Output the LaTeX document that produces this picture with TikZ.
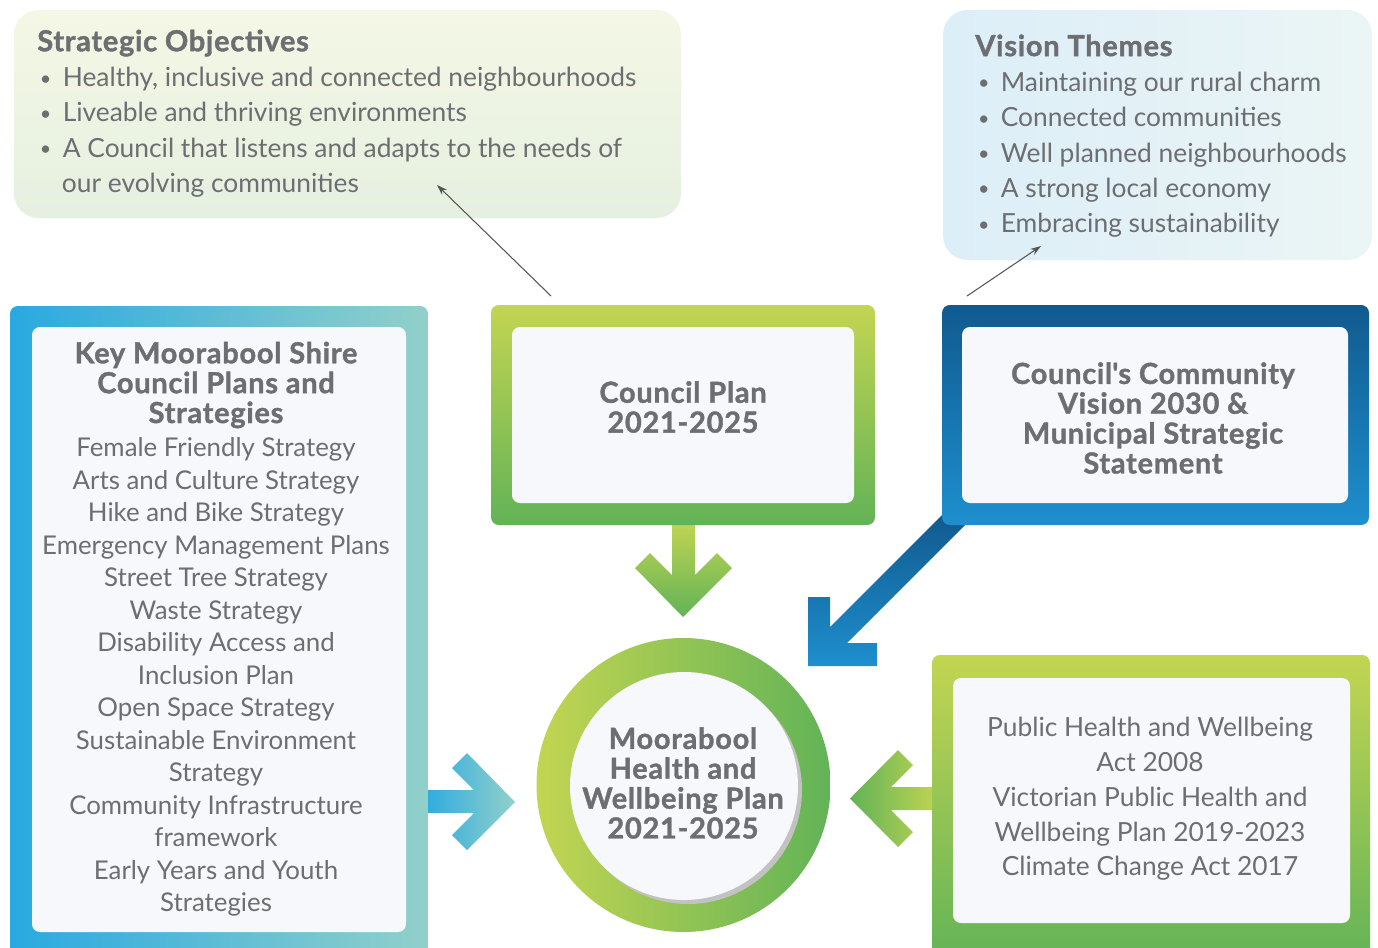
\documentclass[tikz,border=0pt]{standalone}
\usepackage{fontspec}
\setmainfont{Lato}[BoldFeatures={FakeBold=1.3}]
\usetikzlibrary{arrows.meta}
\definecolor{txtgray}{HTML}{6D6E71}
\definecolor{lime}{HTML}{C3D552}
\definecolor{leaf}{HTML}{62B357}
\definecolor{navy}{HTML}{115A8F}
\definecolor{sky}{HTML}{1E8FCE}
\definecolor{cyanb}{HTML}{29A9E1}
\definecolor{tealb}{HTML}{92D0CA}
\definecolor{paper}{HTML}{F7F8FB}
\definecolor{creamtop}{HTML}{F4F7E5}
\definecolor{creambot}{HTML}{E6F0E0}
\definecolor{icel}{HTML}{DCEEF8}
\definecolor{icer}{HTML}{EBF5F5}
\definecolor{shadowgray}{HTML}{C2C2C2}
\definecolor{pointer}{HTML}{555555}
\newcommand\bul{\makebox[14.5pt][l]{\hspace{1.5pt}\raisebox{0.8pt}{\scalebox{0.75}{•}}}}
\newcommand\headfont{\bfseries\fontsize{16.5}{17}\selectfont\addfontfeature{LetterSpace=2.5}}
\newcommand\boxtitle[1]{{\bfseries\fontsize{16.5}{17}\selectfont\addfontfeature{LetterSpace=2.5}#1}}
\begin{document}
\begin{tikzpicture}[x=0.02cm,y=-0.02cm,
  paperbox/.style={fill=paper, rounded corners=4.5pt},
  outerbox/.style={rounded corners=4.5pt},
  softbox/.style={rounded corners=14pt},
  body/.style={text=txtgray, inner sep=0pt, align=center, font=\fontsize{14.7}{18.5}\selectfont},
  head/.style={text=txtgray, inner sep=0pt, align=center, font=\headfont},
  bullets/.style={text=txtgray, inner sep=0pt, align=left, anchor=west, font=\fontsize{15}{20.1}\selectfont},
  pointerline/.style={draw=pointer, line width=0.6pt, -{Stealth[length=6pt,width=4pt]}}
]
\useasboundingbox (0,0) rectangle (1378,947);
\clip (0,0) rectangle (1378,947);
\fill[white] (0,0) rectangle (1378,947);

% light text boxes
\shade[softbox, top color=creamtop, bottom color=creambot] (14,10) rectangle (681,218);
\shade[softbox, left color=icel, right color=icer] (943,10) rectangle (1372,260);

\node[bullets] (strat) at (37,113.5) {\boxtitle{Strategic Objectives}\\
\bul Healthy, inclusive and connected neighbourhoods\\
\bul Liveable and thriving environments\\
\bul A Council that listens and adapts to the needs of\\
\hspace{14pt}our evolving communities};

\node[bullets] (vision) at (975,136) {\boxtitle{Vision Themes}\\
\bul Maintaining our rural charm\\
\bul Connected communities\\
\bul Well planned neighbourhoods\\
\bul A strong local economy\\
\bul Embracing sustainability};

% arrows (drawn beneath boxes)
\shade[top color=lime, bottom color=leaf] (672,520) -- (672,575) -- (650,553) -- (635,568) -- (683,617) -- (732,568) -- (717,553) -- (695,575) -- (695,520) -- cycle;
\shade[top color=navy, bottom color=sky] (942,515) -- (975,515) -- (847,643) -- (877,643) -- (877,666) -- (808,666) -- (808,597) -- (830,597) -- (830,627) -- cycle;
\shade[left color=cyanb, right color=tealb] (420,790) -- (474,790) -- (452,768) -- (467,753) -- (515,802) -- (467,850) -- (452,835) -- (474,813) -- (420,813) -- cycle;
\shade[left color=leaf, right color=lime] (940,787) -- (891,787) -- (913,765) -- (898,750) -- (850,798.5) -- (898,847) -- (913,832) -- (891,810) -- (940,810) -- cycle;

% left box
\shade[outerbox, left color=cyanb, right color=tealb] (10,306) rectangle (428,960);
\fill[paperbox] (32,327) rectangle (406,932);
\node[head] (keytitle) at (216,385) {Key Moorabool Shire\\Council Plans and\\Strategies};
\node[body] (keylist) at (216,677) {Female Friendly Strategy\\Arts and Culture Strategy\\Hike and Bike Strategy\\Emergency Management Plans\\Street Tree Strategy\\Waste Strategy\\Disability Access and\\Inclusion Plan\\Open Space Strategy\\Sustainable Environment\\Strategy\\Community Infrastructure\\framework\\Early Years and Youth\\Strategies};

% council plan box
\shade[outerbox, top color=lime, bottom color=leaf] (491,305) rectangle (875,525);
\fill[paperbox] (512,327) rectangle (854,503);
\node[head] (plan) at (683,407) {Council Plan\\2021-2025};

% community vision box
\shade[outerbox, top color=navy, bottom color=sky] (942,305) rectangle (1369,525);
\fill[paperbox] (962,327) rectangle (1348,503);
\node[head] (commun) at (1153,418) {Council\textquotesingle s Community\\Vision 2030 \&\\Municipal Strategic\\Statement};

% public health box
\shade[outerbox, top color=lime, bottom color=leaf] (932,655) rectangle (1370,965);
\fill[paperbox] (953,678) rectangle (1350,923);
\node[body, font=\fontsize{15}{19.8}\selectfont] (ph) at (1150,799) {Public Health and Wellbeing\\Act 2008\\Victorian Public Health and\\Wellbeing Plan 2019-2023\\Climate Change Act 2017};

% central circle
\shade[left color=lime, right color=leaf] (683.5,785) circle (147);
\fill[shadowgray] (688,790) circle (114);
\fill[paper] (684,786) circle (114);
\node[head] (circ) at (683,783) {Moorabool\\Health and\\Wellbeing Plan\\2021-2025};

% thin pointers
\coordinate (planpt) at (551,296);
\coordinate (stratpt) at (437,185);
\coordinate (communpt) at (967,296);
\coordinate (visionpt) at (1041,246);
\draw[pointerline] (planpt) -- (stratpt);
\draw[pointerline] (communpt) -- (visionpt);
\end{tikzpicture}
\end{document}
